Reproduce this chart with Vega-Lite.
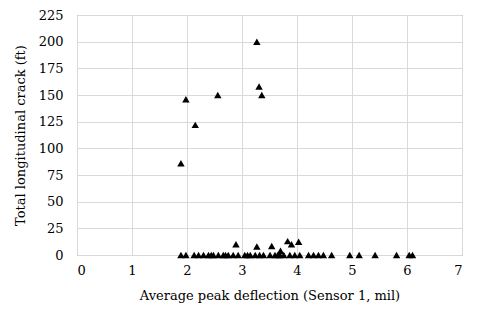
{
  "$schema": "https://vega.github.io/schema/vega-lite/v6.json",
  "width": 385,
  "height": 240,
  "autosize": "none",
  "padding": {"left": 77, "top": 15, "right": 19, "bottom": 68},
  "background": "white",
  "config": {
    "view": {"stroke": "#8c8c8c", "strokeWidth": 1},
    "font": "DejaVu Serif"
  },
  "data": {
    "values": [
      {"x": 1.89, "y": 86}, {"x": 1.98, "y": 146}, {"x": 2.15, "y": 122}, {"x": 2.56, "y": 150},
      {"x": 3.27, "y": 200}, {"x": 3.31, "y": 158}, {"x": 3.36, "y": 150},
      {"x": 2.89, "y": 10}, {"x": 3.27, "y": 8}, {"x": 3.54, "y": 8.5}, {"x": 3.83, "y": 13},
      {"x": 3.9, "y": 10}, {"x": 4.03, "y": 12.5}, {"x": 3.7, "y": 4},
      {"x": 1.89, "y": 0}, {"x": 1.98, "y": 0}, {"x": 2.13, "y": 0}, {"x": 2.21, "y": 0},
      {"x": 2.3, "y": 0}, {"x": 2.39, "y": 0}, {"x": 2.48, "y": 0}, {"x": 2.57, "y": 0},
      {"x": 2.66, "y": 0}, {"x": 2.75, "y": 0}, {"x": 2.84, "y": 0}, {"x": 2.93, "y": 0},
      {"x": 3.05, "y": 0}, {"x": 3.15, "y": 0}, {"x": 3.24, "y": 0}, {"x": 3.32, "y": 0},
      {"x": 3.39, "y": 0}, {"x": 3.51, "y": 0}, {"x": 3.6, "y": 0}, {"x": 3.69, "y": 0},
      {"x": 3.76, "y": 0}, {"x": 3.87, "y": 0}, {"x": 3.96, "y": 0}, {"x": 4.05, "y": 0},
      {"x": 4.21, "y": 0}, {"x": 4.3, "y": 0}, {"x": 4.39, "y": 0}, {"x": 4.48, "y": 0},
      {"x": 4.63, "y": 0}, {"x": 4.96, "y": 0}, {"x": 5.13, "y": 0}, {"x": 5.42, "y": 0},
      {"x": 5.81, "y": 0}, {"x": 6.04, "y": 0}, {"x": 6.1, "y": 0},
      {"x": 2.44, "y": 0}, {"x": 2.7, "y": 0}, {"x": 3.1, "y": 0}, {"x": 3.65, "y": 0}
    ]
  },
  "mark": {"type": "point", "shape": "triangle-up", "filled": true, "color": "black", "opacity": 1, "size": 55, "clip": false},
  "encoding": {
    "x": {
      "field": "x", "type": "quantitative",
      "scale": {"domain": [0, 7], "nice": false, "zero": true},
      "axis": {
        "title": "Average peak deflection (Sensor 1, mil)",
        "values": [0, 1, 2, 3, 4, 5, 6, 7],
        "format": "d",
        "grid": true, "gridColor": "#d9d9d9",
        "ticks": false, "domain": false,
        "labelFont": "DejaVu Serif", "labelFontSize": 13, "labelColor": "black", "labelPadding": 9,
        "titleFont": "DejaVu Serif", "titleFontSize": 13, "titleFontWeight": "normal", "titleColor": "black", "titlePadding": 12
      }
    },
    "y": {
      "field": "y", "type": "quantitative",
      "scale": {"domain": [0, 225], "nice": false},
      "axis": {
        "title": "Total longitudinal crack (ft)",
        "values": [0, 25, 50, 75, 100, 125, 150, 175, 200, 225],
        "grid": true, "gridColor": "#d9d9d9",
        "ticks": false, "domain": false,
        "labelFont": "DejaVu Serif", "labelFontSize": 13, "labelColor": "black", "labelPadding": 14,
        "titleFont": "DejaVu Serif", "titleFontSize": 13, "titleFontWeight": "normal", "titleColor": "black", "titlePadding": 11
      }
    }
  }
}
